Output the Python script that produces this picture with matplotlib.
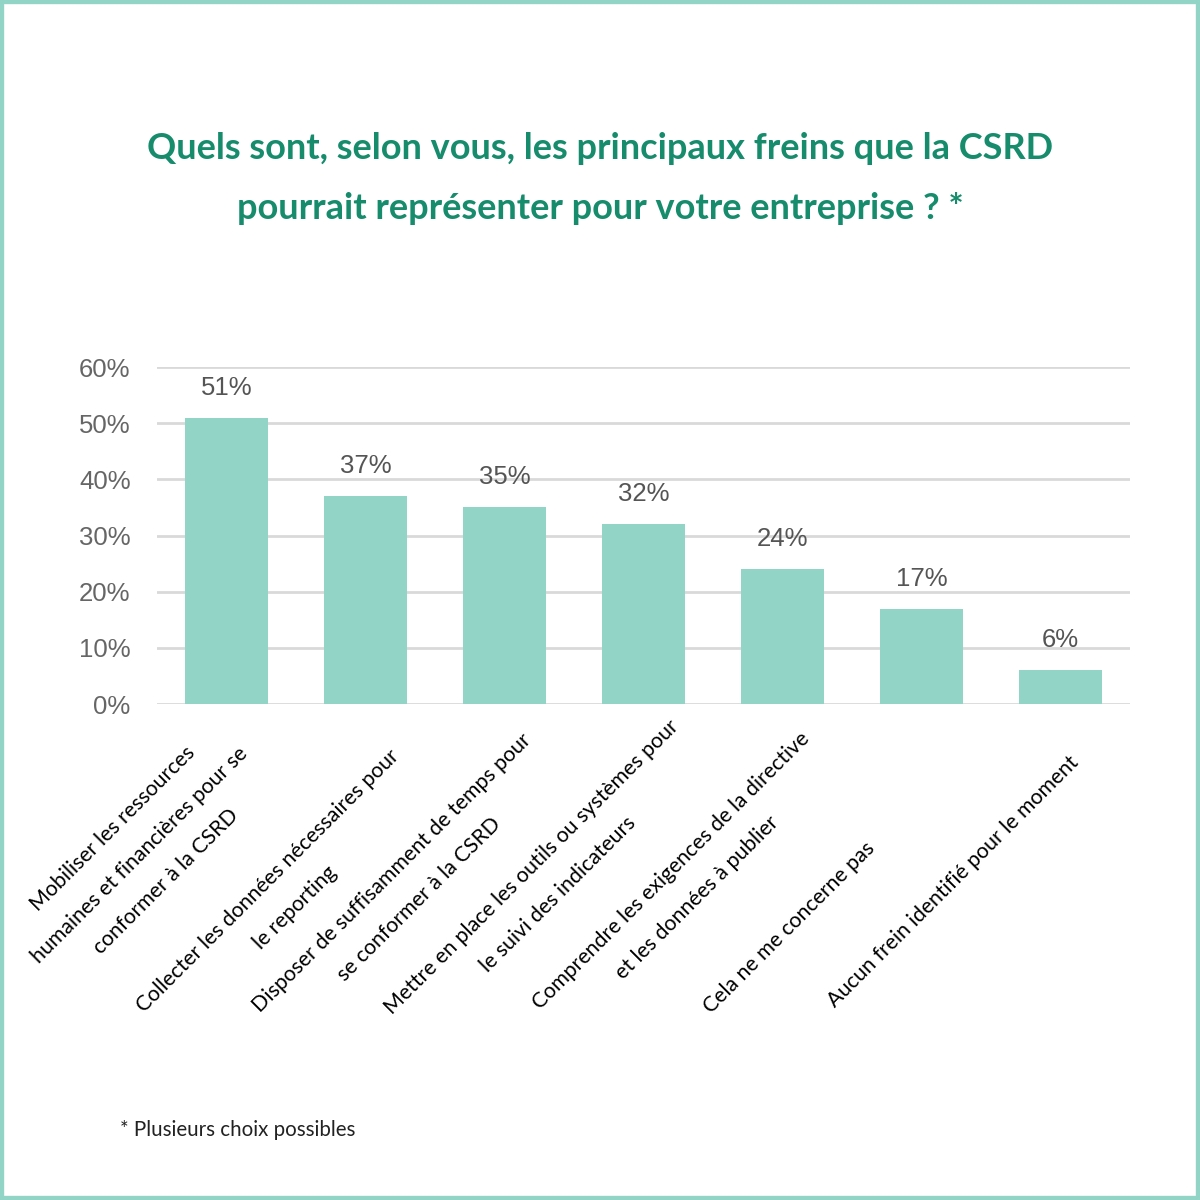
import matplotlib
matplotlib.use("Agg")
import matplotlib.pyplot as plt
from matplotlib.patches import Rectangle

categories = [
    "Mobiliser les ressources\nhumaines et financières pour se\nconformer à la CSRD",
    "Collecter les données nécessaires pour\nle reporting",
    "Disposer de suffisamment de temps pour\nse conformer à la CSRD",
    "Mettre en place les outils ou systèmes pour\nle suivi des indicateurs",
    "Comprendre les exigences de la directive\net les données à publier",
    "Cela ne me concerne pas",
    "Aucun frein identifié pour le moment",
]
values = [51, 37, 35, 32, 24, 17, 6]
yticks = [0, 10, 20, 30, 40, 50, 60]

title = ("Quels sont, selon vous, les principaux freins que la CSRD\n"
         "pourrait représenter pour votre entreprise ? *")
footnote = "* Plusieurs choix possibles"

teal = "#92d5c6"
green = "#168c6c"

fig = plt.figure(figsize=(12, 12), dpi=100)
ax = fig.add_axes([157 / 1200, 1 - 704 / 1200, (1130 - 157) / 1200, (704 - 367) / 1200])

x = range(len(values))
ax.bar(x, values, width=0.59, color=teal, zorder=2)
ax.set_xlim(-0.5, len(values) - 0.5)
ax.set_ylim(0, 60)

ax.set_yticks(yticks)
ax.set_yticklabels([f"{v}%" for v in yticks], family="Liberation Sans",
                   fontsize=18.5, color="#666666")
ax.tick_params(axis="y", length=0, pad=19)
ax.set_xticks([])
ax.grid(axis="y", color="#d9d9d9", linewidth=2, zorder=0)
for s in ["top", "right", "left", "bottom"]:
    ax.spines[s].set_visible(False)

for i, v in enumerate(values):
    ax.annotate(f"{v}%", xy=(i, v), xytext=(0, 18), textcoords="offset pixels",
                ha="center", va="bottom", family="Liberation Sans",
                fontsize=18.5, color="#555555")

# label anchors (right-edge centre of each rotated block), in pixels from the tick
offsets = [(18, 46), (44, 62), (37, 46), (45, 33), (37, 45), (-50, 141), (15, 55)]
for i, (lab, (dx, dy)) in enumerate(zip(categories, offsets)):
    ax.annotate(lab, xy=(i, 0), xytext=(dx, -dy), textcoords="offset pixels",
                rotation=45, rotation_mode="anchor", ha="right", va="center",
                multialignment="center", linespacing=2.1,
                family="Lato", fontsize=15.3, color="black")

fig.text(0.5, 1 - 178.5 / 1200, title, ha="center", va="center",
         family="Lato", fontweight="bold", fontsize=26, color=green,
         linespacing=2.03)
fig.text(120 / 1200, 1 - 1130 / 1200, footnote, ha="left", va="center",
         family="Lato", fontsize=14.8, color="#222222")

fig.patches.append(Rectangle((0, 0), 1, 1, transform=fig.transFigure,
                             fill=False, edgecolor=teal, linewidth=6))

fig.savefig("out.png", dpi=100)
